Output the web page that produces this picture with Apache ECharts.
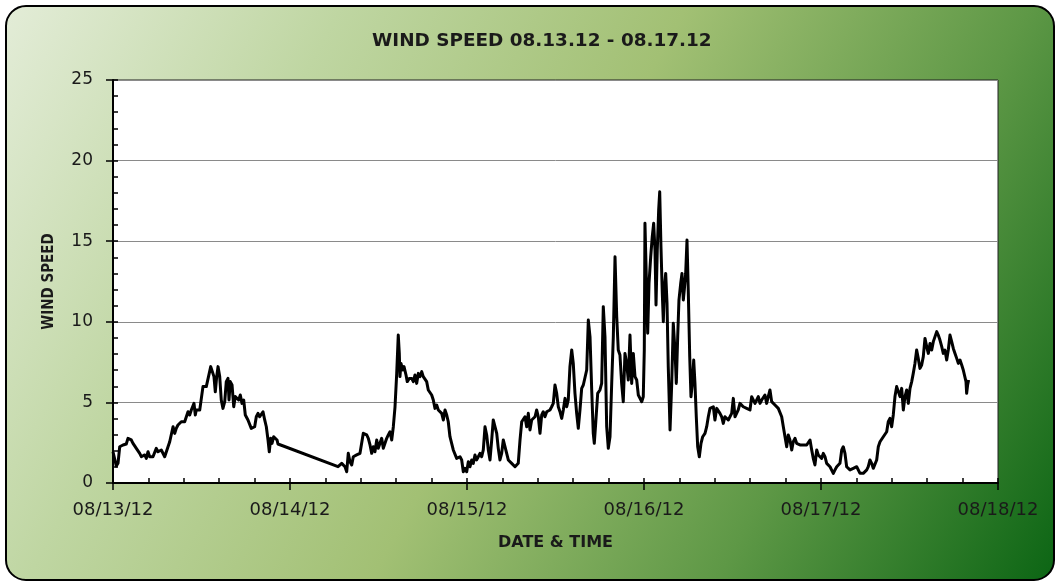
<!DOCTYPE html>
<html>
<head>
<meta charset="utf-8">
<script src="https://cdn.jsdelivr.net/npm/echarts@6/dist/echarts.min.js"></script>
<style>
  html, body { margin: 0; padding: 0; background: #fff; }
  #main { width: 1060px; height: 583px; }
</style>
</head>
<body>
<div id="main"></div>
<script>
// hours since 08/13/12 00:00 and wind speed
var hours = [
  0.00,0.45,0.68,0.91,1.36,1.80,2.03,2.48,2.71,2.94,3.16,3.39,3.62,3.84,4.07,4.30,4.52,4.75,4.98,5.19,
  5.42,5.65,5.87,6.10,6.33,6.55,6.78,7.01,7.23,7.46,7.69,7.90,8.14,8.37,8.58,8.81,9.26,9.72,9.94,10.17,
  10.40,10.62,10.85,10.98,11.16,11.29,11.53,11.76,11.97,12.20,12.65,12.88,13.25,13.42,13.69,13.87,14.06,14.24,14.47,14.68,
  14.91,15.15,15.36,15.59,15.73,15.90,16.14,16.37,16.58,16.81,17.04,17.26,17.49,17.72,17.94,18.30,18.75,19.21,19.43,19.66,
  19.89,20.11,20.34,20.57,20.79,21.02,21.19,21.38,21.56,21.79,22.01,22.24,22.37,30.51,
  31.01,31.23,31.46,31.69,31.90,32.13,32.37,32.58,33.04,33.49,33.72,33.94,34.17,34.40,34.62,34.85,35.08,35.29,35.52,35.76,
  35.97,36.20,36.43,36.65,36.88,37.11,37.33,37.56,37.79,38.01,38.24,38.47,38.68,38.82,38.91,39.05,39.28,39.46,39.73,39.90,
  40.18,40.50,40.72,40.95,41.18,41.40,41.63,41.86,42.07,42.30,42.53,42.75,42.98,43.21,43.43,43.66,43.89,44.11,44.34,44.57,
  44.79,45.02,45.25,45.46,45.69,46.14,46.60,47.05,47.28,47.50,47.73,47.96,48.18,48.41,48.64,48.85,49.08,49.31,49.53,49.76,
  49.99,50.21,50.44,50.67,50.89,51.12,51.35,51.56,51.79,52.03,52.24,52.47,52.70,52.92,53.15,53.38,53.60,53.83,54.06,54.28,
  54.51,54.74,54.95,55.19,55.42,55.63,55.86,56.09,56.31,56.54,56.77,56.99,57.22,57.45,57.67,57.90,58.13,58.34,58.57,58.81,
  59.02,59.25,59.48,59.70,59.93,60.16,60.38,60.61,
  60.84,61.06,61.29,61.52,61.73,61.96,62.20,62.41,62.64,62.87,63.09,63.32,63.55,63.77,64.00,64.23,64.45,64.68,64.91,65.12,
  65.26,65.45,65.72,66.03,66.26,66.48,66.71,66.94,67.16,67.39,67.62,67.84,68.07,68.30,68.51,68.74,68.97,69.19,69.42,69.65,
  69.87,70.10,70.33,70.55,70.78,71.01,71.23,71.46,71.69,71.90,72.04,72.13,72.31,72.50,72.68,72.91,73.12,73.31,73.49,73.63,
  73.80,73.99,74.13,74.30,74.48,74.62,74.75,74.94,75.12,75.29,75.53,75.76,75.97,76.20,76.38,76.57,76.74,76.98,77.15,77.33,
  77.46,77.65,77.83,78.01,78.20,78.37,78.55,78.74,78.91,79.09,79.28,79.50,79.73,79.96,80.27,80.50,80.72,80.95,81.18,81.40,
  81.62,81.86,82.07,82.30,82.53,82.75,82.98,83.21,83.43,83.66,83.89,84.11,84.34,84.57,84.78,85.01,85.24,85.46,85.69,85.92,
  86.14,86.37,86.60,86.82,87.05,
  87.28,87.50,87.73,87.96,88.17,88.40,88.63,88.85,89.08,89.31,89.53,89.76,89.99,90.21,90.44,90.67,90.89,91.12,91.35,91.56,
  91.79,92.03,92.24,92.47,92.70,92.92,93.15,93.38,93.60,93.83,94.06,94.28,94.51,94.74,94.95,95.18,95.42,95.63,95.86,96.09,
  96.31,96.54,96.77,96.99,97.22,97.45,97.67,97.90,98.13,98.34,98.57,98.81,99.02,99.25,99.48,99.70,99.93,100.16,100.38,100.61,
  100.84,101.06,101.29,101.52,101.73,101.96,102.20,102.41,102.64,102.87,103.09,103.32,103.55,103.77,104.00,104.23,104.45,104.68,104.91,105.12,
  105.35,105.58,105.80,106.03,106.26,
  106.48,106.71,106.94,107.16,107.39,107.62,107.84,108.07,108.30,108.51,108.74,108.97,109.19,109.42,109.65,109.87,110.10,110.33,110.55,110.78,
  111.01,111.23,111.46,111.69,111.90,112.13,112.37,112.58,112.81,113.04,113.26,113.49,113.72,113.94,114.17,114.40,114.62,114.85,115.08,115.29,
  115.52,115.66,115.75,115.88,116.02
];

var windSpeed = [
  1.94,1.05,1.22,2.25,2.36,2.42,2.77,2.67,2.46,2.30,2.15,2.05,1.84,1.63,1.53,1.74,1.53,1.94,1.63,1.74,
  1.63,1.53,2.15,1.94,1.84,2.05,1.94,1.63,1.74,2.25,2.56,2.67,3.49,3.08,3.39,3.60,3.80,3.80,3.91,4.42,
  4.22,4.53,4.63,4.94,4.22,4.53,4.42,4.53,4.63,5.98,5.98,6.08,7.22,7.32,6.60,5.66,6.60,7.22,6.60,5.15,
  4.63,5.05,6.29,6.49,5.15,6.29,6.08,4.73,5.36,5.46,5.15,5.46,4.94,5.15,4.22,3.91,3.39,3.49,4.11,4.32,
  4.11,4.01,4.42,3.91,3.49,2.67,1.94,2.77,2.46,2.87,2.77,2.67,2.42,1.01,
  1.22,1.32,1.01,0.70,1.84,1.32,1.12,1.63,1.74,1.84,1.94,3.08,3.18,2.98,2.77,2.36,1.84,2.25,1.94,2.67,
  2.15,2.46,2.77,2.15,2.46,2.77,2.98,3.18,2.67,3.49,4.73,6.80,9.18,8.04,6.60,7.42,7.01,7.22,6.70,6.29,
  6.49,6.49,6.29,6.70,6.18,6.80,6.60,6.91,6.60,6.70,6.29,5.77,5.66,5.46,5.15,4.63,4.84,4.53,4.63,4.32,
  3.91,4.53,4.22,3.80,2.87,2.05,1.53,1.63,1.43,0.70,0.91,0.70,1.32,1.01,1.43,1.22,1.74,1.43,1.63,1.84,
  1.63,2.05,3.49,2.98,2.05,1.43,2.67,3.91,4.01,3.08,2.15,1.43,1.84,2.67,2.77,1.84,1.43,1.32,1.22,1.12,
  1.01,1.01,1.22,2.67,3.80,3.70,4.11,3.49,4.32,3.29,3.91,3.91,4.11,4.53,4.11,3.08,4.22,4.42,4.11,4.42,
  4.53,4.53,4.73,4.94,6.08,5.56,4.73,4.42,
  4.01,4.53,5.25,4.73,5.15,7.22,8.25,7.42,5.56,4.32,3.39,4.53,5.87,6.08,6.18,7.01,10.11,9.07,5.77,3.08,
  2.46,3.70,5.56,5.77,6.18,10.94,9.07,3.49,2.15,2.87,6.18,9.07,14.04,10.32,8.25,7.94,6.18,5.04,8.04,7.42,
  6.39,9.18,6.18,8.04,6.60,6.39,5.46,5.25,5.04,5.35,8.25,16.11,12.80,9.29,12.39,14.04,15.28,16.11,14.45,11.04,
  14.45,16.94,18.07,14.66,11.77,10.00,11.97,13.00,11.15,7.22,3.29,6.18,9.91,8.25,6.18,9.07,11.35,12.39,13.00,11.35,
  11.97,13.00,15.07,11.77,7.84,5.35,6.18,7.63,6.18,4.11,2.25,1.63,2.46,2.87,3.08,3.49,4.11,4.63,4.53,4.73,
  3.91,4.63,4.53,4.32,4.11,3.70,4.11,4.11,3.91,4.01,4.32,5.25,4.11,4.01,4.53,4.94,5.04,4.73,4.63,4.63,
  4.53,4.53,5.35,5.46,4.94,
  5.15,5.36,4.94,5.15,5.05,5.46,4.94,5.36,5.77,5.05,4.94,4.84,4.73,4.63,4.53,4.11,3.49,2.87,2.25,2.98,
  2.67,2.05,2.56,2.77,2.46,2.56,2.36,2.36,2.36,2.25,2.36,2.46,2.67,2.05,1.53,1.12,2.05,1.74,1.84,1.53,
  1.84,1.63,1.22,1.32,1.01,0.91,0.60,0.81,1.01,1.01,1.22,2.05,2.25,1.84,1.01,0.91,0.81,0.91,0.91,0.81,
  1.01,0.91,0.60,0.50,0.60,0.70,0.81,1.01,1.43,1.22,0.91,0.91,1.43,2.25,2.56,2.67,2.87,2.77,3.18,3.80,
  4.01,3.49,4.22,5.36,5.98,
  5.98,5.36,5.87,4.53,5.36,5.77,4.94,5.87,6.29,6.80,7.42,8.25,7.73,7.11,7.32,7.84,8.97,8.46,8.04,8.66,
  8.25,8.77,9.08,9.39,9.18,8.87,8.46,8.04,8.25,7.63,8.25,9.18,8.77,8.35,8.04,7.73,7.42,7.63,7.32,7.01,
  6.91,6.29,5.56,6.08,6.39
];

var dateLabels = ['08/13/12', '08/14/12', '08/15/12', '08/16/12', '08/17/12', '08/18/12'];
var yTicks = [0, 5, 10, 15, 20, 25];

var chartDom = document.getElementById('main');
var myChart = echarts.init(chartDom, null, { renderer: 'canvas' });
var option;

var seriesData = hours.map(function (h, i) { return [h, windSpeed[i]]; });
var txt = '#1a1a1a';
var xMax = (dateLabels.length - 1) * 24;

option = {
  animation: false,
  backgroundColor: 'transparent',
  graphic: [{
    type: 'rect',
    z: -10,
    silent: true,
    shape: { x: 6, y: 6, width: 1048, height: 574, r: 20 },
    style: {
      fill: new echarts.graphic.LinearGradient(0, 0, 1060, 583, [
        { offset: 0, color: '#e4edd9' },
        { offset: 0.25, color: '#bfd6a2' },
        { offset: 0.5, color: '#a2c074' },
        { offset: 0.75, color: '#5e9846' },
        { offset: 1, color: '#0a6413' }
      ], true),
      stroke: '#000',
      lineWidth: 2
    }
  }],
  title: {
    text: 'WIND SPEED 08.13.12 - 08.17.12',
    left: 367,
    top: 27,
    textStyle: {
      fontFamily: 'DejaVu Sans',
      fontWeight: 'bold',
      fontSize: 18.4,
      color: txt
    }
  },
  grid: {
    left: 113,
    right: 62,
    top: 80,
    bottom: 100,
    show: true,
    backgroundColor: '#fff',
    borderColor: '#222',
    borderWidth: 1
  },
  xAxis: [{
    type: 'value',
    position: 'bottom',
    min: 0,
    max: xMax,
    interval: 24,
    name: 'DATE & TIME',
    nameLocation: 'middle',
    nameGap: 52,
    nameTextStyle: { fontFamily: 'DejaVu Sans', fontWeight: 'bold', fontSize: 16, color: txt },
    axisLine: { show: true, lineStyle: { color: '#000', width: 2 } },
    axisTick: { show: true, inside: true, length: 5, lineStyle: { color: '#000', width: 1.5 } },
    minorTick: { show: true, splitNumber: 5, length: 5, lineStyle: { color: '#000', width: 1.5 } },
    axisLabel: {
      margin: 18,
      fontFamily: 'DejaVu Sans',
      fontSize: 18,
      color: txt,
      formatter: function (v) { return dateLabels[Math.round(v / 24)]; }
    },
    splitLine: { show: false }
  }, {
    type: 'value',
    position: 'bottom',
    min: 0,
    max: xMax,
    interval: 24,
    axisLine: { show: false },
    axisTick: { show: true, inside: false, length: 7, lineStyle: { color: '#000', width: 1.5 } },
    axisLabel: { show: false },
    splitLine: { show: false }
  }],
  yAxis: [{
    type: 'value',
    position: 'left',
    min: yTicks[0],
    max: yTicks[yTicks.length - 1],
    interval: 5,
    name: 'WIND SPEED',
    nameLocation: 'middle',
    nameGap: 56,
    nameTextStyle: { fontFamily: 'DejaVu Sans Condensed, DejaVu Sans', fontWeight: 'bold', fontSize: 15, color: txt },
    axisLine: { show: true, lineStyle: { color: '#000', width: 2 } },
    axisTick: { show: true, inside: true, length: 5, lineStyle: { color: '#000', width: 1.5 } },
    minorTick: { show: true, splitNumber: 5, length: 5, lineStyle: { color: '#000', width: 1.5 } },
    axisLabel: { margin: 20, fontFamily: 'DejaVu Sans', fontSize: 17, color: txt },
    splitLine: { show: true, lineStyle: { color: '#8a8a8a', width: 1 } }
  }, {
    type: 'value',
    position: 'left',
    min: yTicks[0],
    max: yTicks[yTicks.length - 1],
    interval: 5,
    axisLine: { show: false },
    axisTick: { show: true, inside: false, length: 7, lineStyle: { color: '#000', width: 1.5 } },
    axisLabel: { show: false },
    splitLine: { show: false }
  }],
  series: [{
    name: 'WIND SPEED',
    type: 'line',
    xAxisIndex: 0,
    yAxisIndex: 0,
    data: seriesData,
    showSymbol: false,
    symbol: 'none',
    lineStyle: { color: '#000', width: 3, join: 'round' }
  }]
};

option && myChart.setOption(option);
</script>
</body>
</html>
